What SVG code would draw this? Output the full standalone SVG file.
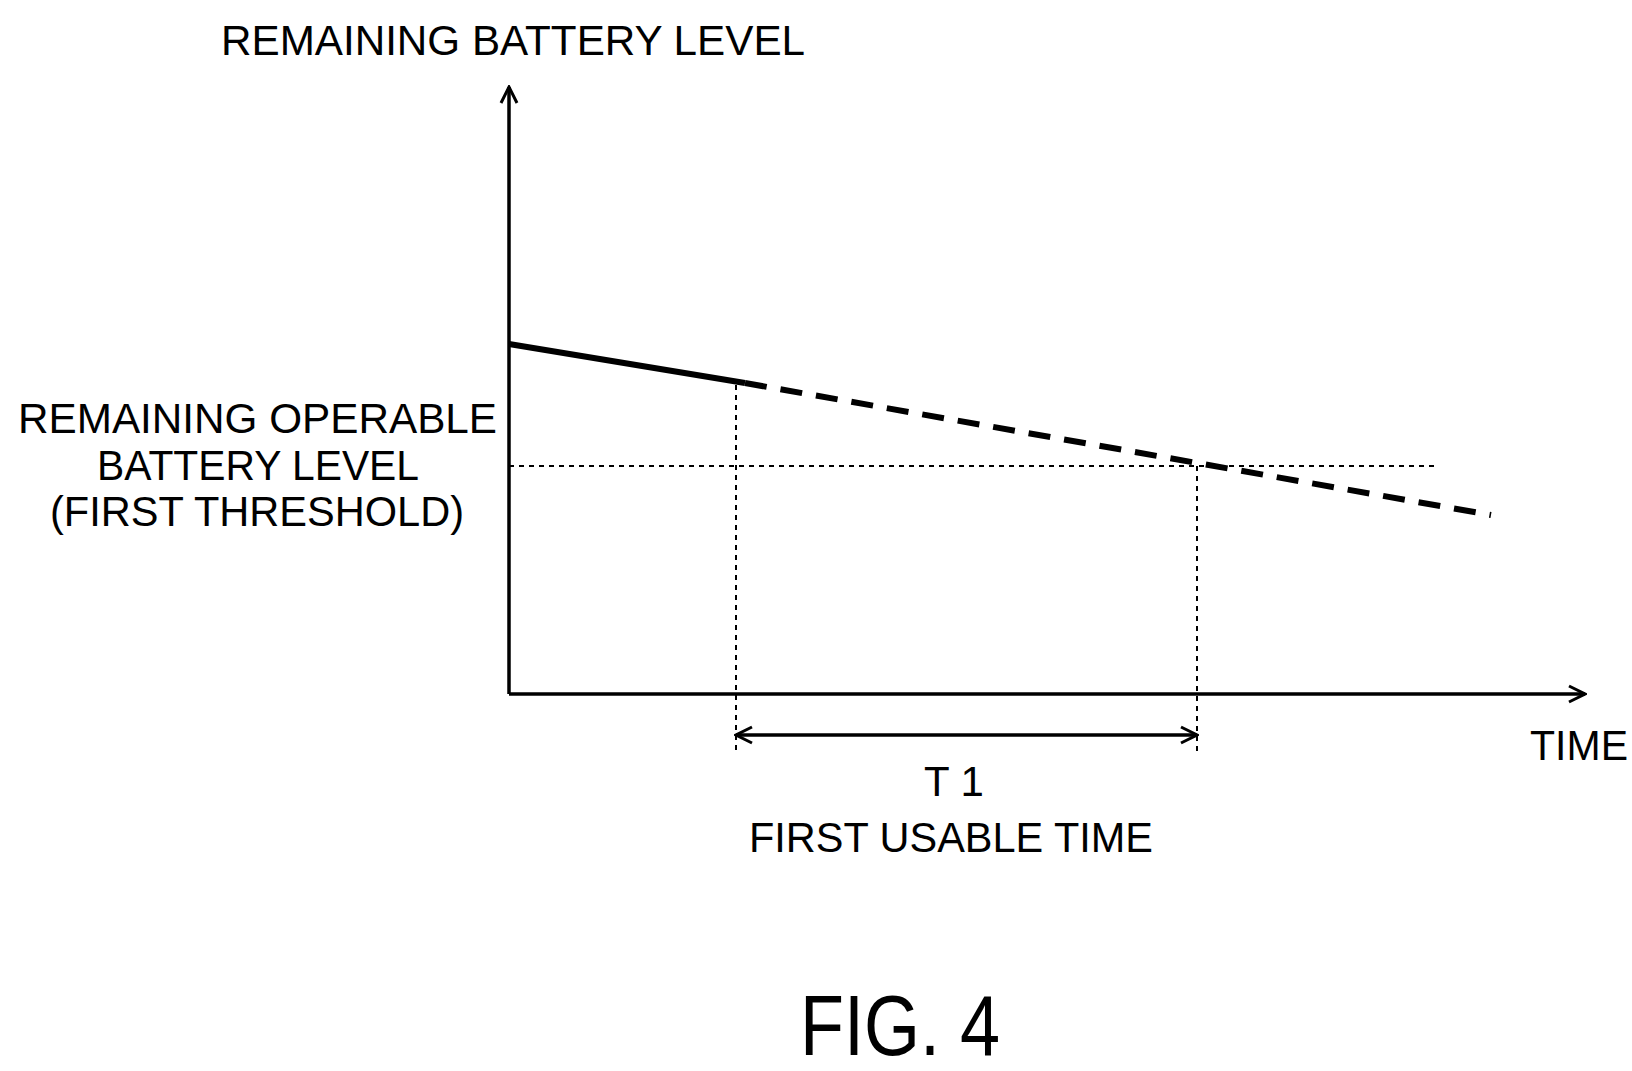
<svg xmlns="http://www.w3.org/2000/svg" width="1632" height="1071" viewBox="0 0 1632 1071">
<style>
text{font-family:"Liberation Sans",Arial,sans-serif;font-size:42px;fill:#000}
.ax{stroke:#000;stroke-width:3.5;fill:none}
.dot{stroke:#000;stroke-width:2;stroke-dasharray:5 5;fill:none}
</style>
<defs>
<marker id="ah" viewBox="0 0 20 20" refX="18" refY="10" markerWidth="20" markerHeight="20" markerUnits="userSpaceOnUse" orient="auto-start-reverse"><path d="M2,2 L18,10 L2,18" fill="none" stroke="#000" stroke-width="3"/></marker>
</defs>
<rect width="1632" height="1071" fill="#fff"/>
<g id="connectors">
<line class="ax" x1="509" y1="694" x2="509" y2="87" marker-end="url(#ah)"/>
<line class="ax" x1="509" y1="694" x2="1585" y2="694" marker-end="url(#ah)"/>
<line x1="509" y1="344" x2="745" y2="383" stroke="#000" stroke-width="6"/>
<line x1="745" y1="383" x2="1491" y2="515" stroke="#000" stroke-width="6" stroke-dasharray="22 14"/>
<line class="dot" x1="509" y1="466" x2="1435" y2="466"/>
<line class="dot" x1="736" y1="385" x2="736" y2="754"/>
<line class="dot" x1="1197" y1="466" x2="1197" y2="754"/>
<line class="ax" x1="736" y1="735" x2="1197" y2="735" marker-start="url(#ah)" marker-end="url(#ah)"/>
</g>
<g id="labels">
<text x="221" y="55" textLength="584" lengthAdjust="spacingAndGlyphs">REMAINING BATTERY LEVEL</text>
<text x="18" y="433" textLength="479" lengthAdjust="spacingAndGlyphs">REMAINING OPERABLE</text>
<text x="97" y="480" textLength="322" lengthAdjust="spacingAndGlyphs">BATTERY LEVEL</text>
<text x="50" y="526" textLength="414" lengthAdjust="spacingAndGlyphs">(FIRST THRESHOLD)</text>
<text x="1530" y="760" textLength="98" lengthAdjust="spacingAndGlyphs">TIME</text>
<text x="954" y="796" text-anchor="middle">T 1</text>
<text x="749" y="852" textLength="404" lengthAdjust="spacingAndGlyphs">FIRST USABLE TIME</text>
<text x="800" y="1055" textLength="200" lengthAdjust="spacingAndGlyphs" style="font-size:86px">FIG. 4</text>
</g>
</svg>
